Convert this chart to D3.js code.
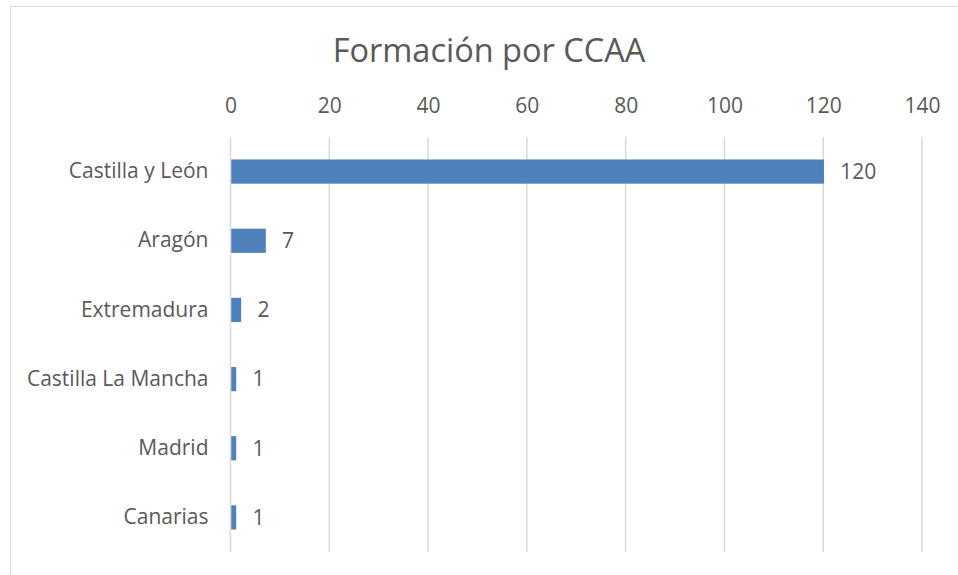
<!DOCTYPE html>
<html>
<head>
<meta charset="utf-8">
<script src="https://cdn.jsdelivr.net/npm/d3@7"></script>
<style>
  body { margin: 0; background: #fff; }
  text { font-family: "Open Sans", sans-serif; fill: #595959; }
</style>
</head>
<body>
<div id="canvas"></div>
<script>
const regions = ["Castilla y León", "Aragón", "Extremadura", "Castilla La Mancha", "Madrid", "Canarias"];
const counts = [120, 7, 2, 1, 1, 1];
const tickValues = [0, 20, 40, 60, 80, 100, 120, 140];
const title = "Formación por CCAA";

const width = 958;
const height = 575;
const margin = {top: 137, left: 230.5, bottom: 23, right: 36};

const iwidth = width - margin.left - margin.right;
const iheight = height - margin.top - margin.bottom;

const svg = d3.select("#canvas").append("svg")
    .attr("width", width)
    .attr("height", height);

// chart frame (only top and left edges visible in the crop)
svg.append("rect")
    .attr("x", 10.5).attr("y", 6.5)
    .attr("width", 980).attr("height", 600)
    .attr("fill", "none")
    .attr("stroke", "#d9d9d9");

svg.append("text")
    .attr("x", 489).attr("y", 62)
    .attr("text-anchor", "middle")
    .style("font-size", "32.5px")
    .text(title);

const g = svg.append("g").attr("transform", `translate(${margin.left},${margin.top})`);

const x = d3.scaleLinear().domain([0, 140]).range([0, iwidth]);
const y = d3.scaleBand().domain(regions).range([0, iheight])
    .paddingInner(0.65).paddingOuter(0.325);

// gridlines
g.selectAll("line.grid").data(tickValues).enter().append("line")
    .attr("class", "grid")
    .attr("x1", d => x(d)).attr("x2", d => x(d))
    .attr("y1", 0).attr("y2", iheight)
    .attr("stroke", "#d9d9d9")
    .attr("stroke-width", 1.5);

// top axis labels
const xAxis = g.append("g")
    .call(d3.axisTop(x).tickValues(tickValues).tickSize(0).tickPadding(24));
xAxis.select(".domain").remove();
xAxis.selectAll("text").style("font-size", "21px").attr("fill", "#595959");

// category labels
const yAxis = g.append("g")
    .call(d3.axisLeft(y).tickSize(0).tickPadding(22));
yAxis.select(".domain").remove();
yAxis.selectAll("text").style("font-size", "21px").attr("fill", "#595959");

const data = regions.map((r, i) => ({name: r, value: counts[i]}));

g.selectAll("rect.bar").data(data).enter().append("rect")
    .attr("class", "bar")
    .attr("x", x(0) + 0.75)
    .attr("y", d => y(d.name))
    .attr("width", d => x(d.value) - x(0))
    .attr("height", y.bandwidth())
    .style("fill", "#4f81bd");

g.selectAll("text.val").data(data).enter().append("text")
    .attr("class", "val")
    .attr("x", d => x(d.value) + 17)
    .attr("y", d => y(d.name) + y.bandwidth() / 2)
    .attr("dy", "0.35em")
    .style("font-size", "21px")
    .text(d => d.value);
</script>
</body>
</html>
